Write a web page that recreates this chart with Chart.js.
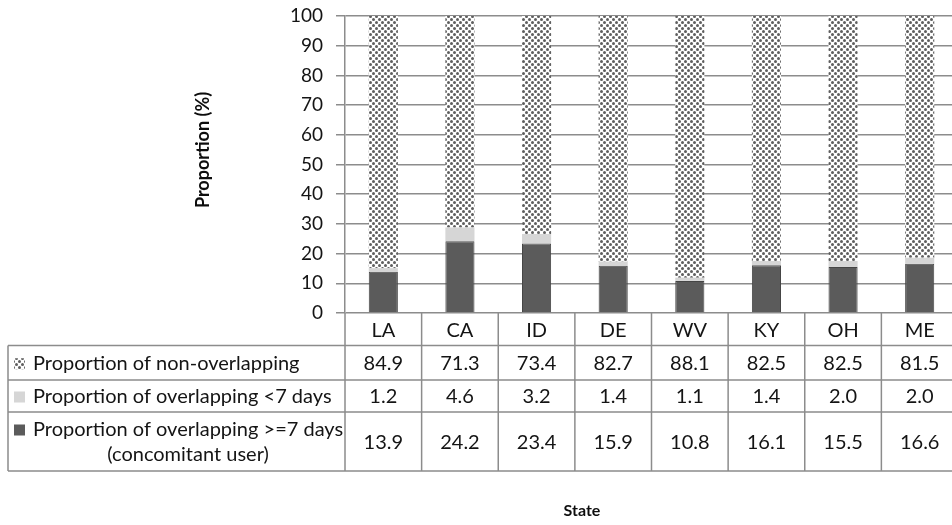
<!DOCTYPE html>
<html>
<head>
<meta charset="utf-8">
<script src="https://cdn.jsdelivr.net/npm/chart.js@4.4.1/dist/chart.umd.min.js"></script>
<style>
  html, body { margin: 0; padding: 0; background: #fff; overflow: hidden; }
  #wrap { width: 960px; height: 525px; }
</style>
</head>
<body>
<div id="wrap"><canvas id="c" width="960" height="525"></canvas></div>
<script>
// Share of users per state, split by overlap of prescriptions (%)
const states = ['LA', 'CA', 'ID', 'DE', 'WV', 'KY', 'OH', 'ME'];
const nonOverlapping = [84.9, 71.3, 73.4, 82.7, 88.1, 82.5, 82.5, 81.5];
const overlapShort   = [1.2, 4.6, 3.2, 1.4, 1.1, 1.4, 2.0, 2.0];
const overlapLong    = [13.9, 24.2, 23.4, 15.9, 10.8, 16.1, 15.5, 16.6];
const yMin = 0, yMax = 100, yStep = 10;

const rowLabels = [
  ['Proportion of non-overlapping'],
  ['Proportion of overlapping <7 days'],
  ['Proportion of overlapping >=7 days', '(concomitant user)']
];
const rowValues = [nonOverlapping, overlapShort, overlapLong];

const FONT = 'Lato, "Liberation Sans", sans-serif';
const GRID = '#8c8c8c';
const DARK = '#5b5b5b';
const LIGHT = '#d6d6d6';
const INK = '#141414';

// dotted checker fill for the non-overlapping segment
function makeDots() {
  const t = document.createElement('canvas');
  t.width = 6; t.height = 6;
  const g = t.getContext('2d');
  g.fillStyle = '#ffffff';
  g.fillRect(0, 0, 6, 6);
  g.fillStyle = '#5e5e5e';
  g.beginPath(); g.arc(1.5, 1.5, 1.5, 0, Math.PI * 2); g.fill();
  g.beginPath(); g.arc(4.5, 4.5, 1.5, 0, Math.PI * 2); g.fill();
  return g.createPattern(t, 'repeat');
}
const ctx0 = document.getElementById('c').getContext('2d');
const dots = makeDots();

// table rows under the plot: header, three value rows
const rowEdges = [0, 32.5, 67, 99, 158]; // offsets below the zero line
const tableLeft = 8;

const dataTable = {
  id: 'dataTable',
  afterDraw(chart) {
    const ctx = chart.ctx;
    const a = chart.chartArea;
    const n = states.length;
    const colW = (a.right - a.left) / n;
    const top = a.bottom;
    const ys = rowEdges.map(v => top + v);
    ctx.save();
    ctx.strokeStyle = GRID;
    ctx.lineWidth = 1.5;
    // horizontal rules
    ctx.beginPath();
    for (let r = 1; r < ys.length; r++) {
      ctx.moveTo(tableLeft, ys[r]);
      ctx.lineTo(a.right + 2, ys[r]);
    }
    // left border of the label column
    ctx.moveTo(tableLeft, ys[1]);
    ctx.lineTo(tableLeft, ys[4]);
    // axis continues through the table
    ctx.moveTo(a.left, top);
    ctx.lineTo(a.left, ys[4]);
    // column separators
    for (let i = 1; i <= n; i++) {
      const x = a.left + colW * i;
      ctx.moveTo(x, top);
      ctx.lineTo(x, ys[4]);
    }
    ctx.stroke();

    ctx.fillStyle = INK;
    ctx.textBaseline = 'middle';
    ctx.textAlign = 'center';
    ctx.font = '20px ' + FONT;
    // category header
    states.forEach((s, i) => {
      const cx = chart.scales.x.getPixelForValue(i);
      ctx.fillText(s, cx, (ys[0] + ys[1]) / 2 + 1);
    });
    // values
    rowValues.forEach((vals, r) => {
      const cy = (ys[r + 1] + ys[r + 2]) / 2 + 1;
      vals.forEach((v, i) => {
        const cx = chart.scales.x.getPixelForValue(i);
        ctx.fillText(v.toFixed(1), cx, cy);
      });
    });
    // row labels with legend keys
    const keyX = 14, keyS = 11, textX = 33;
    const keys = [dots, LIGHT, DARK];
    rowLabels.forEach((lines, r) => {
      const y0 = ys[r + 1], y1 = ys[r + 2];
      const lh = 25;
      const firstY = (y0 + y1) / 2 - (lines.length - 1) * lh / 2 + 1;
      ctx.fillStyle = keys[r];
      ctx.fillRect(keyX, firstY - keyS / 2, keyS, keyS);
      ctx.fillStyle = INK;
      ctx.textAlign = 'left';
      ctx.fillText(lines[0], textX, firstY);
      const w0 = ctx.measureText(lines[0]).width;
      for (let k = 1; k < lines.length; k++) {
        ctx.textAlign = 'center';
        ctx.fillText(lines[k], textX + w0 / 2, firstY + lh * k);
      }
    });

    // axis titles
    ctx.textAlign = 'center';
    ctx.fillStyle = '#0d0d0d';
    ctx.font = 'bold 16px ' + FONT;
    ctx.fillText('State', 582, 511);
    ctx.font = 'bold 18px ' + FONT;
    ctx.translate(203, 150);
    ctx.rotate(-Math.PI / 2);
    ctx.fillText('Proportion (%)', 0, 0);
    ctx.restore();
  }
};

new Chart(ctx0, {
  type: 'bar',
  data: {
    labels: states,
    datasets: [
      { label: 'Proportion of overlapping >=7 days (concomitant user)', data: overlapLong,
        backgroundColor: DARK, borderColor: '#454545', borderWidth: 1 },
      { label: 'Proportion of overlapping <7 days', data: overlapShort,
        backgroundColor: LIGHT, borderWidth: 0 },
      { label: 'Proportion of non-overlapping', data: nonOverlapping,
        backgroundColor: dots, borderWidth: 0 }
    ]
  },
  options: {
    responsive: false,
    animation: false,
    layout: { padding: { top: 16, bottom: 212, left: 0, right: 2 } },
    datasets: { bar: { categoryPercentage: 1, barPercentage: 0.38 } },
    plugins: { legend: { display: false }, tooltip: { enabled: false } },
    scales: {
      x: { stacked: true, display: false },
      y: {
        stacked: true,
        min: yMin, max: yMax,
        afterFit(scale) {
          scale.width = 345;
          scale.paddingTop = 8;
          scale.paddingBottom = 8;
        },
        ticks: { stepSize: yStep, padding: 13, color: INK, font: { family: FONT, size: 19 } },
        grid: { color: GRID, lineWidth: 1.5, tickLength: 9, drawTicks: true },
        border: { color: GRID, width: 1.5 }
      }
    }
  },
  plugins: [dataTable]
});
</script>
</body>
</html>
